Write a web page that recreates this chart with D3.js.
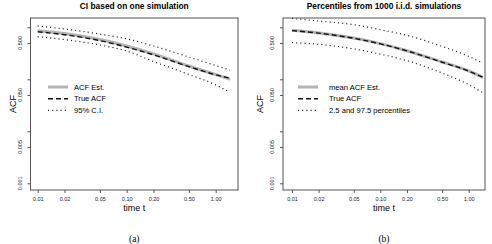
<!DOCTYPE html>
<html>
<head>
<meta charset="utf-8">
<script src="https://cdn.jsdelivr.net/npm/d3@7"></script>
<style>
  body { margin: 0; background: #fff; }
  svg { display: block; font-family: "Liberation Sans", Arial, sans-serif; }
</style>
</head>
<body>
<div id="chart"></div>
<script>
// time points (log x axis)
const times = [0.01, 0.02, 0.05, 0.1, 0.2, 0.5, 1.0, 1.45];

// panel (a): one simulation
const estA   = [0.86, 0.76, 0.582, 0.437, 0.309, 0.180, 0.123, 0.101];
const trueA  = [0.82, 0.72, 0.555, 0.415, 0.295, 0.175, 0.122, 0.105];
const upperA = [1.06, 0.93, 0.74, 0.60, 0.437, 0.268, 0.184, 0.15];
const lowerA = [0.66, 0.58, 0.457, 0.35, 0.22, 0.124, 0.078, 0.056];

// panel (b): 1000 simulations
const estB   = [0.874, 0.78, 0.62, 0.485, 0.355, 0.215, 0.145, 0.109];
const trueB  = [0.865, 0.772, 0.615, 0.48, 0.352, 0.213, 0.144, 0.109];
const upperB = [1.49, 1.32, 1.124, 0.90, 0.70, 0.43, 0.276, 0.205];
const lowerB = [0.506, 0.47, 0.385, 0.305, 0.228, 0.132, 0.079, 0.055];

const xTicks = [0.01, 0.02, 0.05, 0.1, 0.2, 0.5, 1];
const xTickLabels = ["0.01", "0.02", "0.05", "0.10", "0.20", "0.50", "1.00"];
const yTicks = [1, 0.5, 0.1, 0.05, 0.01, 0.005, 0.001];
const yLabelTicks = [0.5, 0.05, 0.005, 0.001];
const yTickLabels = ["0.500", "0.050", "0.005", "0.001"];

const panels = [
  { title: "CI based on one simulation", tag: "(a)",
    legend: ["ACF Est.", "True ACF", "95% C.I."],
    est: estA, tru: trueA, up: upperA, lo: lowerA,
    box: [30.5, 238], xr: [37.7, 215.7], legX: 48, textX: 74, yLab: 12 },
  { title: "Percentiles from 1000 i.i.d. simulations", tag: "(b)",
    legend: ["mean ACF Est.", "True ACF", "2.5 and 97.5 percentiles"],
    est: estB, tru: trueB, up: upperB, lo: lowerB,
    box: [283, 485], xr: [292, 468.7], legX: 298, textX: 329, yLab: 259 }
];

const width = 492, height = 244;
const boxTop = 18, boxBottom = 190;

const svg = d3.select("#chart").append("svg")
  .attr("width", width).attr("height", height);

const yScale = d3.scaleLog().domain([1, 0.001]).range([27.3, 183.3]);

panels.forEach(p => {
  const g = svg.append("g");
  const xScale = d3.scaleLog().domain([0.01, 1]).range(p.xr);
  const cx = (p.box[0] + p.box[1]) / 2;

  const line = d3.line()
    .x((d, i) => xScale(times[i]))
    .y(d => yScale(d))
    .curve(d3.curveMonotoneX);

  g.append("path").attr("d", line(p.est))
    .attr("fill", "none").attr("stroke", "#b3b3b3").attr("stroke-width", 3);
  g.append("path").attr("d", line(p.tru))
    .attr("fill", "none").attr("stroke", "#111").attr("stroke-width", 1.4)
    .attr("stroke-dasharray", "5,3");
  [p.up, p.lo].forEach(s => {
    g.append("path").attr("d", line(s))
      .attr("fill", "none").attr("stroke", "#111").attr("stroke-width", 1.2)
      .attr("stroke-dasharray", "1,3.2");
  });

  // box
  g.append("rect")
    .attr("x", p.box[0]).attr("y", boxTop)
    .attr("width", p.box[1] - p.box[0]).attr("height", boxBottom - boxTop)
    .attr("fill", "none").attr("stroke", "#555").attr("stroke-width", 1);

  // x axis
  const xAxis = d3.axisBottom(xScale)
    .tickValues(xTicks)
    .tickFormat((d, i) => xTickLabels[i])
    .tickSize(3).tickPadding(4);
  const xg = g.append("g").attr("transform", `translate(0,${boxBottom})`).call(xAxis);
  xg.select(".domain").remove();
  xg.selectAll("line").attr("stroke", "#555");
  xg.selectAll("text").attr("font-size", 5.5).attr("fill", "#222")
    .attr("font-family", "Liberation Sans, Arial, sans-serif");

  // y axis
  const yAxis = d3.axisLeft(yScale)
    .tickValues(yTicks)
    .tickFormat(() => "")
    .tickSize(3);
  const yg = g.append("g").attr("transform", `translate(${p.box[0]},0)`).call(yAxis);
  yg.select(".domain").remove();
  yg.selectAll("line").attr("stroke", "#555");

  yLabelTicks.forEach((v, i) => {
    const x = p.box[0] - 9;
    g.append("text")
      .attr("transform", `translate(${x},${yScale(v)}) rotate(-90)`)
      .attr("text-anchor", "middle")
      .attr("font-size", 5.5).attr("fill", "#222")
      .text(yTickLabels[i]);
  });

  // titles and labels
  g.append("text").attr("x", cx).attr("y", 8.5)
    .attr("text-anchor", "middle").attr("font-size", 8.4).attr("font-weight", "bold")
    .text(p.title);
  g.append("text").attr("x", cx).attr("y", 210.5)
    .attr("text-anchor", "middle").attr("font-size", 9)
    .text("time t");
  g.append("text")
    .attr("transform", `translate(${p.yLab + 3.5},${(boxTop + boxBottom) / 2}) rotate(-90)`)
    .attr("text-anchor", "middle").attr("font-size", 9)
    .text("ACF");
  g.append("text").attr("x", cx).attr("y", 242)
    .attr("text-anchor", "middle").attr("font-size", 9.5)
    .attr("font-family", "Liberation Serif, Times New Roman, serif")
    .text(p.tag);

  // legend
  const legY = [87, 98.7, 110.3];
  const styles = [
    { stroke: "#b3b3b3", w: 3, dash: null },
    { stroke: "#111", w: 1.4, dash: "5,3" },
    { stroke: "#111", w: 1.2, dash: "1,3.2" }
  ];
  p.legend.forEach((lab, i) => {
    g.append("line")
      .attr("x1", p.legX).attr("x2", p.legX + 20)
      .attr("y1", legY[i]).attr("y2", legY[i])
      .attr("stroke", styles[i].stroke).attr("stroke-width", styles[i].w)
      .attr("stroke-dasharray", styles[i].dash);
    g.append("text")
      .attr("x", p.textX).attr("y", legY[i])
      .attr("dy", "0.35em").attr("font-size", 7.6)
      .text(lab);
  });
});
</script>
</body>
</html>
